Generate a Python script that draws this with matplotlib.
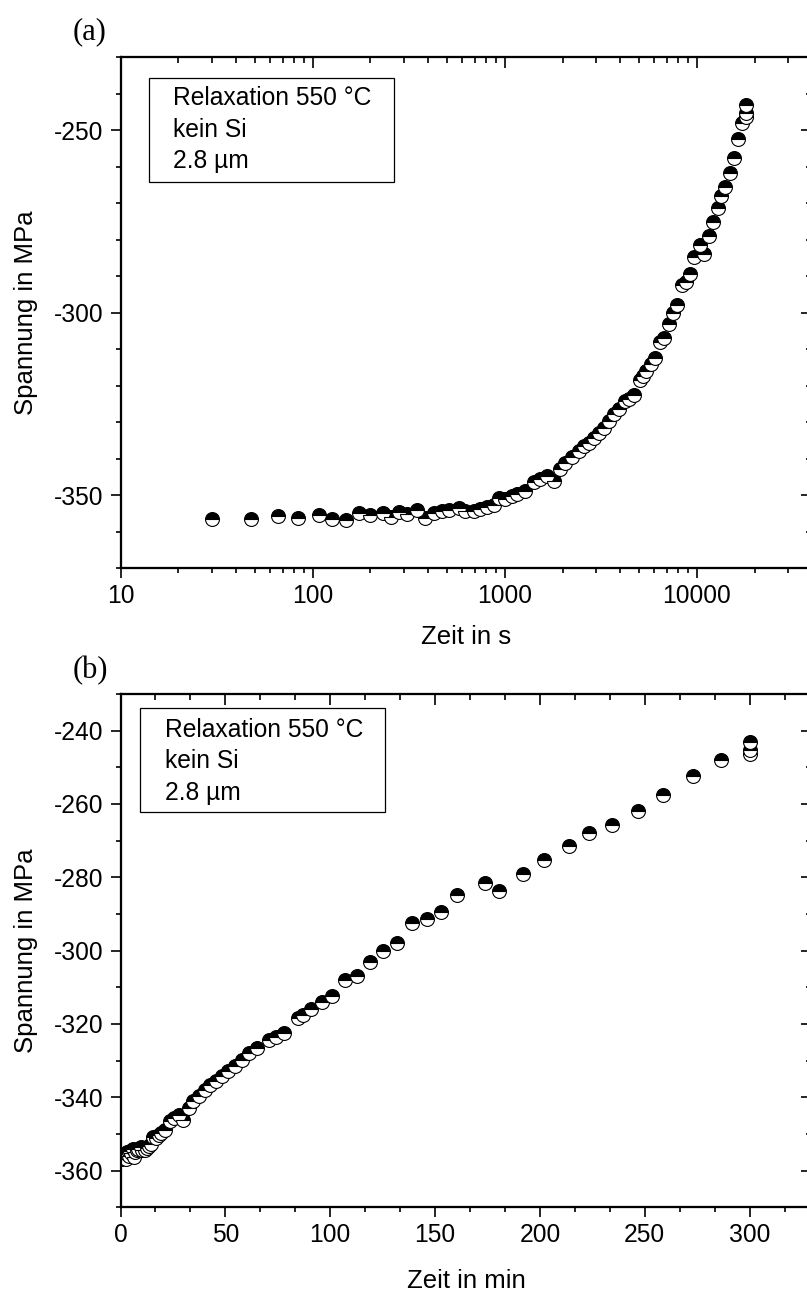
import numpy as np
import matplotlib
matplotlib.use("Agg")
import matplotlib.pyplot as plt
from matplotlib.ticker import (LogLocator, FixedLocator, FuncFormatter,
                               MultipleLocator, NullFormatter)
from matplotlib.patches import Rectangle

plt.rcParams["font.family"] = ["Liberation Sans", "DejaVu Sans"]
plt.rcParams["axes.unicode_minus"] = False

# Relaxation measurement at 550 °C, no Si, 2.8 µm film
time_s = [30, 48, 66, 84, 108, 126, 150, 174, 198, 232, 255, 281, 310, 350,
          386, 427, 472, 511, 576, 624, 689, 746, 809, 876, 929, 1007, 1091,
          1158, 1280, 1414, 1532, 1660, 1797, 1946, 2066, 2239, 2425, 2575,
          2734, 2903, 3082, 3273, 3475, 3690, 3918, 4240, 4460, 4690, 5075,
          5220, 5460, 5760, 6060, 6420, 6780, 7140, 7500, 7920, 8340, 8760,
          9180, 9620, 10420, 10840, 11510, 12130, 12820, 13400, 14050, 14800,
          15530, 16370, 17170, 18000, 18000, 18000]
stress_mpa = [-356.5, -356.7, -355.7, -356.2, -355.6, -356.5, -356.8, -355.0,
              -355.5, -355.0, -355.9, -354.6, -355.3, -354.0, -356.4, -354.8,
              -354.4, -354.0, -353.5, -354.3, -354.3, -353.8, -353.4, -352.6,
              -350.7, -351.1, -350.2, -349.7, -348.8, -346.5, -345.6, -344.8,
              -346.1, -342.9, -341.1, -339.7, -337.9, -336.6, -335.6, -334.3,
              -332.9, -331.5, -329.7, -327.9, -326.5, -324.3, -323.6, -322.5,
              -318.4, -317.5, -316.0, -314.0, -312.5, -308.0, -307.0, -303.0,
              -300.0, -298.0, -292.5, -291.5, -289.5, -284.7, -281.5, -283.8,
              -279.0, -275.2, -271.4, -267.9, -265.6, -261.8, -257.6, -252.5,
              -247.9, -246.5, -245.3, -243.0]

info_lines = ["Relaxation 550 °C", "kein Si", "2.8 µm"]

time_s = np.array(time_s, dtype=float)
stress_mpa = np.array(stress_mpa, dtype=float)
time_min = time_s / 60.0

W, H = 807, 1294
fig = plt.figure(figsize=(W / 100, H / 100), dpi=100)

FS = 17.7
FS_LABEL = 18.5
SP_LW = 1.5
marker_kw = dict(linestyle="none", marker="o", markersize=10.0,
                 fillstyle="top", markerfacecolor="black",
                 markerfacecoloralt="white", markeredgecolor="black",
                 markeredgewidth=0.8)


def px_box(left, top, right, bottom):
    return [left / W, 1 - bottom / H, (right - left) / W, (bottom - top) / H]


def style_main(ax):
    for sp in ax.spines.values():
        sp.set_linewidth(SP_LW)
    ax.tick_params(which="both", direction="out", width=1.2, labelsize=FS,
                   top=False, right=False)
    ax.tick_params(which="major", length=7.2)
    ax.tick_params(which="minor", length=3.6)
    ax.tick_params(axis="x", pad=4)
    ax.tick_params(axis="y", pad=5)


def style_twin(tw):
    for sp in tw.spines.values():
        sp.set_linewidth(SP_LW)
    tw.tick_params(which="both", direction="in", width=1.2,
                   labeltop=False, labelright=False,
                   labelbottom=False, labelleft=False)
    tw.tick_params(which="major", length=7.6)
    tw.tick_params(which="minor", length=4.0)


def info_box(ax, box, text_x, baselines):
    # box = (x0, y0, x1, y1) in axes fraction
    x0, y0, x1, y1 = box
    ax.add_patch(Rectangle((x0, y0), x1 - x0, y1 - y0, transform=ax.transAxes,
                           facecolor="white", edgecolor="black",
                           linewidth=0.9, zorder=5))
    for line, yb in zip(info_lines, baselines):
        ax.text(text_x, yb, line, transform=ax.transAxes, fontsize=FS,
                ha="left", va="baseline", zorder=6)


# ---------------- (a) logarithmic time axis in seconds ----------------
ax_a = fig.add_axes(px_box(120.5, 57.3, 812.5, 568.0))
ax_a.plot(time_s, stress_mpa, **marker_kw, zorder=3)
ax_a.set_xscale("log")
ax_a.set_xlim(10, 40000)
ax_a.set_ylim(-370, -230)
ax_a.xaxis.set_major_locator(FixedLocator([10, 100, 1000, 10000]))
ax_a.xaxis.set_major_formatter(FuncFormatter(lambda v, p: "%d" % round(v)))
ax_a.xaxis.set_minor_locator(LogLocator(base=10, subs=np.arange(2, 10)))
ax_a.xaxis.set_minor_formatter(NullFormatter())
ax_a.yaxis.set_major_locator(MultipleLocator(50))
ax_a.yaxis.set_minor_locator(MultipleLocator(10))
style_main(ax_a)
ax_a.set_xlabel("Zeit in s", fontsize=FS_LABEL)
ax_a.set_ylabel("Spannung in MPa", fontsize=FS_LABEL)
ax_a.xaxis.set_label_coords(0.5, -0.111)
ax_a.yaxis.set_label_coords(-0.119, 0.5)

ta = ax_a.twiny()
ta.set_xscale("log")
ta.set_xlim(ax_a.get_xlim())
ta.xaxis.set_major_locator(FixedLocator([10, 100, 1000, 10000]))
ta.xaxis.set_minor_locator(LogLocator(base=10, subs=np.arange(2, 10)))
ta.xaxis.set_minor_formatter(NullFormatter())
style_twin(ta)
ra = ax_a.twinx()
ra.set_ylim(ax_a.get_ylim())
ra.yaxis.set_major_locator(MultipleLocator(50))
ra.yaxis.set_minor_locator(MultipleLocator(10))
style_twin(ra)

ha_a = 568.0 - 57.3
wa_a = 812.5 - 120.5
info_box(ax_a,
         ((149 - 120.5) / wa_a, (568 - 181.7) / ha_a,
          (394 - 120.5) / wa_a, (568 - 78.3) / ha_a),
         (173.3 - 120.5) / wa_a,
         [(568 - y) / ha_a for y in (105.0, 136.7, 168.4)])

# ---------------- (b) linear time axis in minutes ----------------
ax_b = fig.add_axes(px_box(120.5, 694.0, 812.5, 1207.3))
ax_b.plot(time_min, stress_mpa, **marker_kw, zorder=3)
ax_b.set_xlim(0, 330)
ax_b.set_ylim(-370, -230)
ax_b.xaxis.set_major_locator(MultipleLocator(50))
ax_b.xaxis.set_minor_locator(MultipleLocator(50 / 3))
ax_b.yaxis.set_major_locator(MultipleLocator(20))
ax_b.yaxis.set_minor_locator(MultipleLocator(10))
style_main(ax_b)
ax_b.set_xlabel("Zeit in min", fontsize=FS_LABEL)
ax_b.set_ylabel("Spannung in MPa", fontsize=FS_LABEL)
ax_b.xaxis.set_label_coords(0.5, -0.120)
ax_b.yaxis.set_label_coords(-0.119, 0.5)

tb = ax_b.twiny()
tb.set_xlim(ax_b.get_xlim())
tb.xaxis.set_major_locator(MultipleLocator(50))
tb.xaxis.set_minor_locator(MultipleLocator(50 / 3))
style_twin(tb)
rb = ax_b.twinx()
rb.set_ylim(ax_b.get_ylim())
rb.yaxis.set_major_locator(MultipleLocator(20))
rb.yaxis.set_minor_locator(MultipleLocator(10))
style_twin(rb)

hb = 1207.3 - 694.0
wb = 812.5 - 120.5
info_box(ax_b,
         ((140 - 120.5) / wb, (1207.3 - 811.7) / hb,
          (385 - 120.5) / wb, (1207.3 - 708.3) / hb),
         (165 - 120.5) / wb,
         [(1207.3 - y) / hb for y in (736.7, 768.3, 800.0)])

# panel letters
for letter, ycen in (("(a)", 32.0), ("(b)", 671.0)):
    fig.text(90 / W, 1 - ycen / H, letter, fontsize=22,
             family=["Liberation Serif", "DejaVu Serif"],
             ha="center", va="center")

fig.savefig("out.png", dpi=100)
